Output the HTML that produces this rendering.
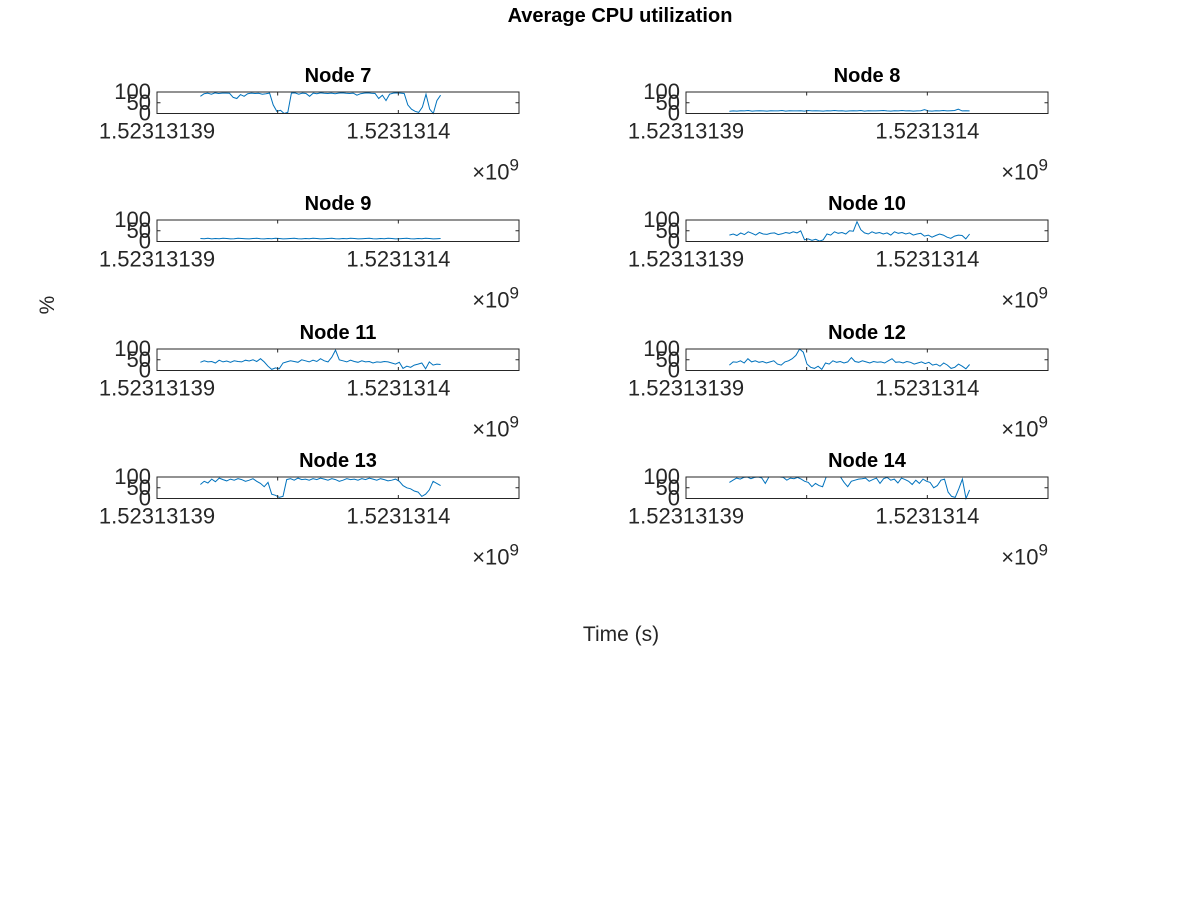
<!DOCTYPE html>
<html><head><meta charset="utf-8"><style>
body{margin:0;background:#fff;}
svg{display:block;font-family:"Liberation Sans",Arial,sans-serif;}
</style></head><body>
<svg id="fig" width="1200" height="900" viewBox="0 0 1200 900">
<rect width="1200" height="900" fill="#fff"/>
<text x="620" y="22" text-anchor="middle" font-size="20" font-weight="bold" fill="#000">Average CPU utilization</text>
<text x="621" y="641" text-anchor="middle" font-size="21" fill="#262626">Time (s)</text>
<text transform="translate(54,305) rotate(-90)" text-anchor="middle" font-size="21" fill="#262626">%</text>
<g id="panels"></g>
</svg>
<script>
const nodeNames=["Node 7","Node 8","Node 9","Node 10","Node 11","Node 12","Node 13","Node 14"];
const xTickLabels=["1.52313139","","1.5231314",""];
const yTicks=[0,50,100];
const xStart=1.8, xEnd=11.75; // seconds offset of first/last sample (domain 0..15)
const node7=[80,92,95,90,96,93,95,95,94,75,70,88,80,92,95,93,94,90,92,95,40,10,15,0,5,95,96,90,95,93,80,95,92,96,94,93,95,92,95,96,94,93,95,85,92,95,96,94,93,70,85,60,90,95,96,95,93,40,20,10,5,30,90,20,0,60,85];
const node8=[10,12,11,13,12,14,11,12,13,12,11,13,12,12,14,11,13,12,12,13,11,14,12,13,12,11,13,12,14,12,13,11,12,13,12,14,11,13,12,12,13,14,12,11,13,12,14,12,13,11,12,13,18,12,11,13,12,14,12,13,14,20,12,13,12];
const node9=[14,13,15,12,14,13,15,14,12,13,15,14,13,12,14,15,13,12,14,13,15,14,12,13,14,15,13,12,14,13,15,14,12,13,14,15,13,12,14,13,15,14,12,13,14,15,13,12,14,13,15,14,12,13,14,15,13,12,14,13,15,14,12,13,14];
const node10=[30,35,28,40,32,45,38,30,42,35,33,38,40,32,36,42,38,45,40,50,8,12,5,10,2,8,35,30,45,38,42,35,50,48,92,55,40,35,45,38,42,35,40,30,45,38,42,35,40,30,35,38,25,30,20,28,35,30,20,15,25,30,28,12,35];
const node11=[38,45,40,42,35,48,40,44,38,45,42,40,48,44,50,42,55,40,20,5,12,8,35,40,45,42,38,50,45,40,48,42,55,45,40,62,95,50,45,40,48,42,38,45,40,42,35,40,38,42,40,35,30,38,10,20,15,25,30,35,8,40,25,30,28];
const node12=[25,40,38,45,35,55,40,45,38,42,35,40,45,30,25,40,45,55,70,100,85,30,15,10,20,5,35,30,45,38,42,35,40,60,42,38,45,40,35,42,38,40,35,45,55,38,40,35,42,38,30,35,40,32,38,25,30,20,35,25,10,15,30,20,8,28];
const node13=[65,80,72,90,78,95,88,82,90,85,92,88,80,85,92,80,70,55,75,20,15,5,10,88,92,85,95,88,90,85,92,88,95,90,85,92,88,80,85,92,88,90,85,92,88,95,90,85,92,88,82,85,90,80,60,50,45,35,30,10,20,40,80,70,60];
const node14=[75,85,95,90,98,100,92,98,100,96,70,100,100,100,100,98,85,95,92,98,90,80,75,55,70,60,55,100,100,100,100,100,75,55,80,85,90,92,95,80,88,95,70,92,98,85,90,72,95,88,80,65,85,70,90,80,75,50,60,85,90,30,10,5,45,90,0,40];
const series=[node7,node8,node9,node10,node11,node12,node13,node14];

const NS="http://www.w3.org/2000/svg";
const g=document.getElementById('panels');
const colX=[157,686], rowY=[92,220,349,477], W=362, H=21.5;
function mk(tag,attrs,parent){const e=document.createElementNS(NS,tag);for(const k in attrs)e.setAttribute(k,attrs[k]);parent.appendChild(e);return e;}
series.forEach((vals,i)=>{
  const L=colX[i%2], T=rowY[Math.floor(i/2)];
  const xs=v=>L+v/15*W, ys=v=>T+H-v/100*H;
  const p=mk('g',{},g);
  
  
  const t=mk('text',{x:L+W/2,y:T-10,'text-anchor':'middle','font-size':20,'font-weight':'bold',fill:'#000'},p);
  t.textContent=nodeNames[i];
  
  
  const n=vals.length;
  const pts=vals.map((v,k)=>xs(xStart+(xEnd-xStart)*k/(n-1)).toFixed(1)+','+ys(v).toFixed(1)).join(' ');
  const pl=mk('polyline',{points:pts,fill:'none',stroke:'#0072BD','stroke-width':1},p);
  
  
  const box=mk('rect',{x:L,y:T,width:W,height:H,fill:'none',stroke:'#262626','stroke-width':1},p);
  
  
  xTickLabels.forEach((lab,k)=>{
    const x=xs(k*5);
    mk('line',{x1:x,y1:T+H,x2:x,y2:T+H-3.5,stroke:'#262626'},p);
    mk('line',{x1:x,y1:T,x2:x,y2:T+3.5,stroke:'#262626'},p);
    if(lab){const tl=mk('text',{x:x,y:T+H+25,'text-anchor':'middle','font-size':22,fill:'#262626'},p);tl.textContent=lab;
      
      }
  });
  yTicks.forEach(v=>{
    const y=ys(v);
    mk('line',{x1:L,y1:y,x2:L+3.5,y2:y,stroke:'#262626'},p);
    mk('line',{x1:L+W,y1:y,x2:L+W-3.5,y2:y,stroke:'#262626'},p);
    const tl=mk('text',{x:L-6,y:y+7,'text-anchor':'end','font-size':22,fill:'#262626'},p);tl.textContent=v;
    
    
  });
  const ex=mk('text',{x:L+W,y:T+H+66,'text-anchor':'end','font-size':22,fill:'#262626'},p);
  ex.innerHTML='×10<tspan dy="-9" font-size="17">9</tspan>';
  
  
});
</script>
</body></html>
